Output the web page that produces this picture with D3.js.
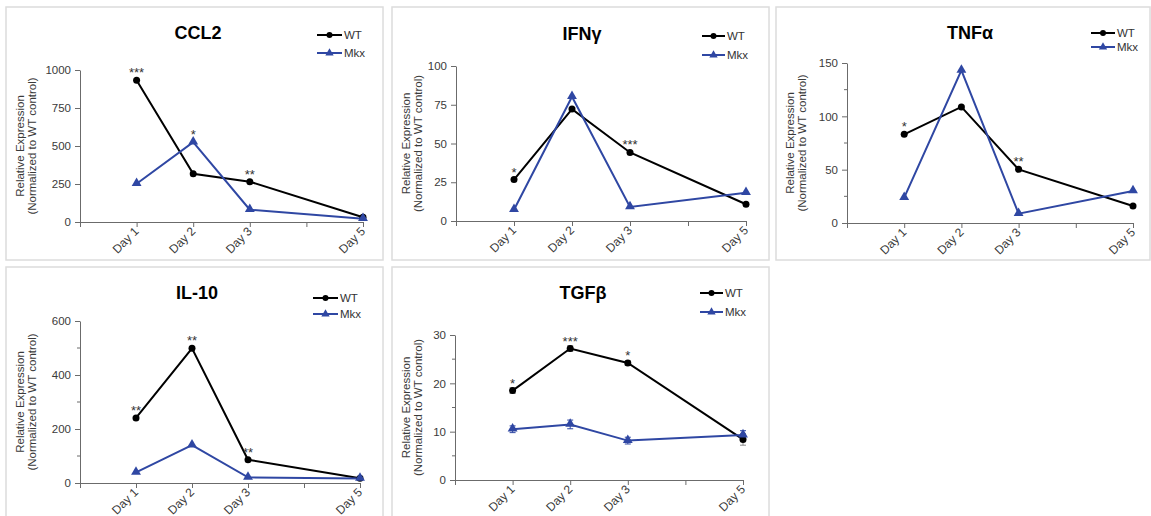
<!DOCTYPE html>
<html>
<head>
<meta charset="utf-8">
<script src="https://d3js.org/d3.v7.min.js"></script>
<title>Cytokine expression</title>
<style>
  body { margin: 0; background: #fff; font-family: Arial, "Liberation Sans", sans-serif; }
  svg text { font-family: Arial, "Liberation Sans", sans-serif; }
</style>
</head>
<body>
<script>
// ---- data ----
var days = [1, 2, 3, 5];
var dayLabels = ["Day 1", "Day 2", "Day 3", "Day 5"];
var genes = ["CCL2", "IFNγ", "TNFα", "IL-10", "TGFβ"];

var ccl2WT   = [932, 317, 265, 31],   ccl2Mkx  = [252, 525, 81, 22];
var ifngWT   = [26.7, 72.2, 44.2, 10.8], ifngMkx = [7.3, 80.2, 9.1, 18.3];
var tnfaWT   = [83.1, 108.8, 50.3, 15.9], tnfaMkx = [23.8, 143.1, 8.8, 30];
var il10WT   = [241, 499, 86, 18],    il10Mkx  = [39, 140, 21, 17];
var tgfbWT   = [18.5, 27.2, 24.2, 8.4], tgfbMkx = [10.5, 11.5, 8.15, 9.3];
var tgfbWTErr  = [0.6, 0.6, 0.5, 1.2];
var tgfbMkxErr = [0.7, 0.9, 0.7, 0.9];

var ccl2Stars = ["***", "*", "**", ""];
var ifngStars = ["*", "", "***", ""];
var tnfaStars = ["*", "", "**", ""];
var il10Stars = ["**", "**", "**", ""];
var tgfbStars = ["*", "***", "*", ""];

var ccl2Ticks = [0, 250, 500, 750, 1000];
var ifngTicks = [0, 25, 50, 75, 100];
var tnfaTicks = [0, 50, 100, 150];
var il10Ticks = [0, 200, 400, 600];
var tgfbTicks = [0, 10, 20, 30];

var seriesNames = ["WT", "Mkx"];

// ---- layout (pixels) ----
var colWT = "#000", colMkx = "#2f47a3", axisCol = "#6b6b6b", txtCol = "#3a3a3a";

var panels = [
  {wt: ccl2WT, mkx: ccl2Mkx, stars: ccl2Stars, ticks: ccl2Ticks, minor: false,
   box: [6, 7, 377, 253], plot: [80, 363, 70, 222], title: [198, 33], leg: [317, 344, 35, 53]},
  {wt: ifngWT, mkx: ifngMkx, stars: ifngStars, ticks: ifngTicks, minor: false,
   box: [392, 7, 377, 253], plot: [456, 746, 66, 221], title: [582, 34], leg: [702, 727, 36, 55]},
  {wt: tnfaWT, mkx: tnfaMkx, stars: tnfaStars, ticks: tnfaTicks, minor: true,
   box: [776, 7, 374, 253], plot: [847, 1133, 63, 223], title: [970, 33], leg: [1091, 1117, 33, 47]},
  {wt: il10WT, mkx: il10Mkx, stars: il10Stars, ticks: il10Ticks, minor: true,
   box: [6, 267, 377, 252], plot: [80, 360, 321, 483], title: [197, 293], leg: [313, 340, 298, 314]},
  {wt: tgfbWT, mkx: tgfbMkx, stars: tgfbStars, ticks: tgfbTicks, minor: true,
   wtErr: tgfbWTErr, mkxErr: tgfbMkxErr,
   box: [392, 267, 377, 252], plot: [455, 743, 335, 480], title: [583, 293], leg: [700, 725, 293, 312]}
];

var svg = d3.select("body").append("svg")
  .attr("width", 1151)
  .attr("height", 516);

var tri = d3.symbol().type(d3.symbolTriangle).size(42);

panels.forEach(function(p, k) {
  var g = svg.append("g");

  g.append("rect")
    .attr("x", p.box[0]).attr("y", p.box[1])
    .attr("width", p.box[2]).attr("height", p.box[3])
    .attr("fill", "#fff").attr("stroke", "#dcdcdc").attr("stroke-width", 1.5);

  var x = d3.scaleLinear().domain([0, 5]).range([p.plot[0], p.plot[1]]);
  var y = d3.scaleLinear().domain([0, d3.max(p.ticks)]).range([p.plot[3], p.plot[2]]);

  // y axis
  var yAxis = g.append("g")
    .attr("transform", "translate(" + p.plot[0] + ",0)")
    .call(d3.axisLeft(y).tickValues(p.ticks).tickFormat(d3.format("d"))
      .tickSize(5).tickSizeOuter(0).tickPadding(4));
  if (p.minor) {
    var step = p.ticks[1] - p.ticks[0];
    var minors = p.ticks.slice(1).map(function(t) { return t - step / 2; });
    g.append("g").selectAll("line").data(minors).enter().append("line")
      .attr("x1", p.plot[0] - 3).attr("x2", p.plot[0])
      .attr("y1", function(d) { return y(d); }).attr("y2", function(d) { return y(d); })
      .attr("stroke", axisCol);
  }

  // x axis
  var xAxis = g.append("g")
    .attr("transform", "translate(0," + p.plot[3] + ")")
    .call(d3.axisBottom(x).tickValues([0, 1, 2, 3, 4, 5]).tickSize(5).tickSizeOuter(0).tickFormat(""));

  [yAxis, xAxis].forEach(function(a) {
    a.select(".domain").attr("stroke", axisCol);
    a.selectAll(".tick line").attr("stroke", axisCol);
  });
  yAxis.selectAll(".tick text").attr("font-size", 11.5).attr("fill", txtCol);

  g.append("g").selectAll("text").data(days).enter().append("text")
    .attr("transform", function(d) { return "translate(" + (x(d) + 3) + "," + (p.plot[3] + 10) + ") rotate(-45)"; })
    .attr("text-anchor", "end")
    .attr("font-size", 12)
    .attr("fill", txtCol)
    .text(function(d, i) { return dayLabels[i]; });

  // y title
  var ym = (p.plot[2] + p.plot[3]) / 2;
  g.append("text")
    .attr("transform", "translate(" + (p.box[0] + 18) + "," + ym + ") rotate(-90)")
    .attr("text-anchor", "middle").attr("font-size", 11.5).attr("fill", txtCol)
    .text("Relative Expression");
  g.append("text")
    .attr("transform", "translate(" + (p.box[0] + 29.5) + "," + ym + ") rotate(-90)")
    .attr("text-anchor", "middle").attr("font-size", 11.5).attr("fill", txtCol)
    .text("(Normalized to WT control)");

  // title
  g.append("text")
    .attr("x", p.title[0]).attr("y", p.title[1] + 6)
    .attr("text-anchor", "middle").attr("font-size", 18).attr("font-weight", "bold")
    .text(genes[k]);

  // lines
  var line = d3.line()
    .x(function(d, i) { return x(days[i]); })
    .y(function(d) { return y(d); });

  // error bars
  [[p.wtErr, p.wt, "#8c8c8c"], [p.mkxErr, p.mkx, colMkx]].forEach(function(s) {
    if (!s[0]) return;
    var eg = g.append("g").attr("stroke", s[2]).attr("stroke-width", 1);
    s[1].forEach(function(v, i) {
      var cx = x(days[i]), e = s[0][i];
      eg.append("line").attr("x1", cx).attr("x2", cx).attr("y1", y(v - e)).attr("y2", y(v + e));
      eg.append("line").attr("x1", cx - 3).attr("x2", cx + 3).attr("y1", y(v + e)).attr("y2", y(v + e));
      eg.append("line").attr("x1", cx - 3).attr("x2", cx + 3).attr("y1", y(v - e)).attr("y2", y(v - e));
    });
  });

  g.append("path").datum(p.wt).attr("d", line)
    .attr("fill", "none").attr("stroke", colWT).attr("stroke-width", 2);
  g.append("path").datum(p.mkx).attr("d", line)
    .attr("fill", "none").attr("stroke", colMkx).attr("stroke-width", 2);

  g.append("g").selectAll("circle").data(p.wt).enter().append("circle")
    .attr("cx", function(d, i) { return x(days[i]); })
    .attr("cy", function(d) { return y(d); })
    .attr("r", 3.5).attr("fill", colWT);
  g.append("g").selectAll("path").data(p.mkx).enter().append("path")
    .attr("d", tri)
    .attr("transform", function(d, i) { return "translate(" + x(days[i]) + "," + (y(d) - 0.5) + ")"; })
    .attr("fill", colMkx);

  // significance stars
  g.append("g").selectAll("text").data(p.stars).enter().append("text")
    .attr("x", function(d, i) { return x(days[i]); })
    .attr("y", function(d, i) { return y(Math.max(p.wt[i], p.mkx[i])) - 3; })
    .attr("text-anchor", "middle").attr("font-size", 13).attr("fill", "#333")
    .text(function(d) { return d; });

  // legend
  seriesNames.forEach(function(name, j) {
    var ly = j === 0 ? p.leg[2] : p.leg[3];
    var c = j === 0 ? colWT : colMkx;
    g.append("line").attr("x1", p.leg[0]).attr("x2", p.leg[1] - 2)
      .attr("y1", ly).attr("y2", ly).attr("stroke", c).attr("stroke-width", 2);
    var mx = (p.leg[0] + p.leg[1] - 2) / 2;
    if (j === 0) {
      g.append("circle").attr("cx", mx).attr("cy", ly).attr("r", 3).attr("fill", c);
    } else {
      g.append("path").attr("d", d3.symbol().type(d3.symbolTriangle).size(30))
        .attr("transform", "translate(" + mx + "," + ly + ")").attr("fill", c);
    }
    g.append("text").attr("x", p.leg[1]).attr("y", ly + 4)
      .attr("font-size", 11.5).attr("fill", "#333").text(name);
  });
});
</script>
</body>
</html>
